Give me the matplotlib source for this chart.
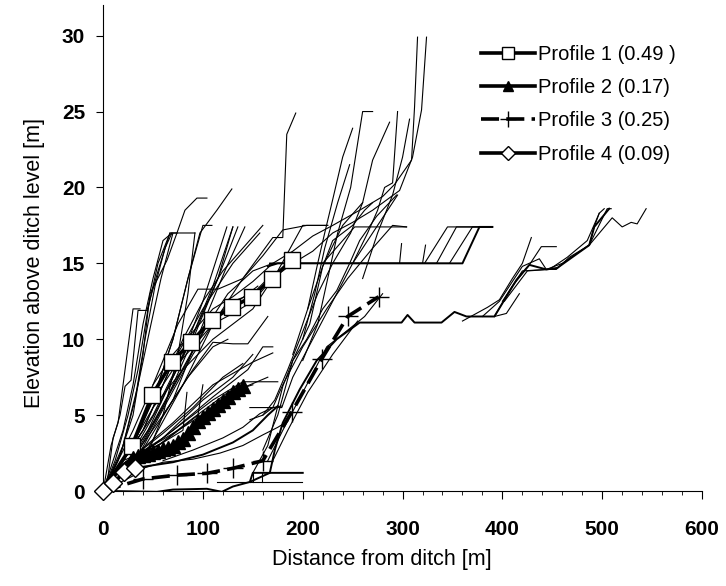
import matplotlib.pyplot as plt
from matplotlib.ticker import MultipleLocator

plt.rcParams['font.family'] = ['Liberation Sans', 'DejaVu Sans']

# the four marked profiles (share of all profiles in brackets)
p1_x = [0, 9, 29, 49, 69, 88, 109, 129, 149, 169, 189]
p1_y = [0, 1.0, 3.0, 6.3, 8.5, 9.8, 11.3, 12.1, 12.8, 14.0, 15.2]
p2_x = [0, 10, 20, 30, 35, 40, 45, 50, 55, 60, 65, 70, 75, 80, 85, 90, 95, 100, 105, 110, 115, 120, 125, 130, 135, 140]
p2_y = [0, 0.9, 1.7, 2.2, 2.3, 2.4, 2.45, 2.55, 2.65, 2.75, 2.85, 3.0, 3.2, 3.4, 3.8, 4.2, 4.6, 4.9, 5.15, 5.4,
        5.7, 5.95, 6.2, 6.5, 6.7, 6.9]
p3_x = [0, 10, 40, 74, 104, 130, 160, 189, 219, 245, 276]
p3_y = [0, 0.2, 0.8, 1.05, 1.17, 1.5, 2.0, 5.2, 8.7, 11.5, 12.8]
p4_x = [0, 10, 21, 32]
p4_y = [0, 0.5, 1.25, 1.5]
labels = ['Profile 1 (0.49 )', 'Profile 2 (0.17)', 'Profile 3 (0.25)', 'Profile 4 (0.09)']

# all other measured profiles, thin lines, grouped roughly by area
steep_lines = [
    [(0, 0), (8, 3), (17, 5), (22, 6.9), (28, 7.3), (35, 11.9), (44, 11.9), (55, 14.5), (67, 17), (92, 17)],
    [(0, 0), (12, 2), (25, 5), (35, 8), (45, 12), (55, 15), (67, 17)],
    [(0, 0), (20, 3), (35, 7), (48, 11), (58, 14), (70, 17), (74, 17)],
    [(0, 0), (30, 1), (45, 2.5), (60, 5), (75, 9), (85, 13), (92, 17)],
    [(0, 0), (15, 2), (30, 5), (40, 9), (47, 13), (64, 15.2), (74, 17), (82, 18.5), (94, 19.3), (104, 19.3)],
    [(0, 0), (30, 3), (55, 7), (70, 10), (85, 14), (97, 17), (114, 18.5), (129, 19.9)],
    [(0, 0), (25, 2.5), (50, 6), (70, 10), (85, 14), (100, 17.5), (109, 17.5)],
    [(20, 2), (50, 5), (80, 9), (100, 12.5), (124, 17.4)],
    [(25, 2), (55, 5.5), (85, 9.5), (110, 13.5), (130, 17.4)],
    [(30, 2), (60, 5.5), (90, 10), (115, 14), (135, 17.4)],
    [(35, 2.2), (70, 6), (100, 11), (122, 14.5), (142, 17.4)],
    [(0, 0), (20, 2), (40, 4), (70, 8.5), (100, 12), (130, 15), (157, 17)],
    [(40, 2.2), (80, 7), (110, 11), (140, 14), (170, 16.7), (180, 16.7), (184, 23.5), (193, 24.9)],
    [(0, 0), (5, 1), (10, 3.5), (15, 4.5), (20, 7), (26, 10), (30, 12), (37, 12)],
    [(15, 1.5), (40, 4), (60, 7), (80, 10), (100, 12.5), (120, 14.5), (140, 16), (160, 17.5)],
    [(20, 1.5), (45, 4), (70, 7.5), (95, 11), (115, 14), (130, 17.4)],
    [(25, 2), (50, 4.5), (75, 7.5), (100, 10.5), (125, 13), (150, 14.5), (170, 15)],
    [(30, 2.2), (55, 5), (80, 8), (105, 11), (130, 12.5), (150, 13), (165, 14)],
    [(30, 2.2), (60, 5), (85, 7.5), (110, 9.5), (125, 10)],
    [(35, 2.3), (65, 6), (90, 9), (115, 11.5), (135, 12.5), (155, 13.5)],
    [(60, 5), (90, 8), (110, 9.8), (130, 9.7), (145, 9.7), (165, 11.5)],
    [(50, 7), (75, 11), (95, 13.3), (115, 13.3), (140, 14), (160, 15.5), (180, 17.2), (204, 17.5), (225, 17.5)],
    [(0, 0), (10, 2), (20, 4), (30, 7), (40, 11), (50, 14), (60, 16.5), (69, 17)],
    [(0, 0), (18, 2.5), (32, 6), (42, 10), (52, 13.5), (62, 16), (69, 17)],
]
mid_lines = [
    [(0, 0), (30, 4), (50, 7), (70, 9), (90, 10.5), (110, 12), (130, 12.8), (150, 13.8), (170, 15),
     (190, 15.8), (210, 16.8), (230, 17.5), (257, 18.5), (280, 19.4), (292, 20.2), (309, 21.8), (312, 25.3), (315, 29.9)],
    [(0, 0), (30, 3), (50, 6), (70, 8), (90, 9.5), (110, 11), (130, 11.7), (150, 12.5), (170, 14), (190, 15),
     (210, 15.8), (230, 17), (250, 17.7), (270, 18.5), (297, 19.8), (310, 22), (319, 25.1), (324, 29.9)],
    [(20, 2), (50, 5.5), (80, 8), (110, 10), (130, 11), (150, 12), (175, 14.5), (200, 17.5), (225, 17.5)],
    [(167, 15), (322, 15), (345, 17.4), (390, 17.4)],
    [(167, 15), (334, 15), (354, 17.4), (390, 17.4)],
    [(167, 15), (347, 15), (370, 17.4), (390, 17.4)],
    [(220, 15), (240, 16.5), (252, 17.4), (304, 17.4)],
    [(297, 15), (299, 16.3)],
    [(320, 15), (323, 16.2)],
    [(205, 12), (220, 14.8), (230, 16.5), (250, 17.5), (262, 18.5), (270, 19)],
]
low_lines = [
    [(160, 2.7), (175, 5), (190, 8.6), (204, 10), (220, 12), (234, 13.2), (247, 15), (257, 16.5), (274, 18.1), (294, 19.5)],
    [(150, 1.2), (165, 3), (180, 6.9), (190, 8.6), (207, 11), (220, 14.8), (240, 17.5), (260, 19)],
    [(160, 5), (170, 5.5), (180, 7), (200, 9.5), (224, 12), (245, 14), (270, 16), (290, 17.5), (304, 17.4)],
    [(147, 5.5), (179, 5.5), (190, 7.5), (210, 10), (230, 12.5), (250, 15), (270, 17), (285, 18.5), (295, 19.5)],
    [(165, 2), (180, 4), (200, 6.5), (224, 9.5), (247, 10.7), (262, 11.5), (280, 13)],
    [(170, 2), (185, 4), (205, 6.5), (230, 9), (255, 11.2)],
    [(147, 4.7), (160, 5), (172, 6), (185, 8), (200, 10.5), (215, 13), (230, 15), (248, 17), (260, 19), (270, 21.8), (287, 24.3)],
    [(200, 8.6), (215, 11), (225, 14), (235, 17), (248, 20), (260, 25), (270, 25)],
    [(190, 9), (205, 12), (215, 15), (222, 17), (230, 19.2), (240, 22), (250, 23.9)],
    [(200, 10), (212, 13), (222, 16), (235, 19), (247, 21.5)],
    [(250, 15), (265, 17), (275, 18.5), (282, 20), (290, 20.3), (295, 25)],
    [(260, 14), (275, 17), (290, 19.5), (300, 22), (307, 24.5)],
    [(114, 0.6), (199, 0.6)],
    [(150, 0.6), (150, 1.2)],
    [(159, 0.6), (159, 1.2)],
    [(40, 1.5), (60, 1.9), (90, 2.1), (117, 2.5), (140, 3.0), (160, 3.7), (175, 4.2), (185, 4.6)],
    [(60, 2), (90, 2.7), (120, 3.5), (140, 4.2), (157, 5.1), (170, 5.5), (179, 5.6)],
    [(20, 1.8), (50, 3), (80, 4.5), (110, 6), (140, 7.2), (150, 7.2), (175, 7.2)],
    [(20, 1.8), (60, 3.5), (100, 6), (130, 7.5), (150, 9)],
    [(25, 2), (60, 3.8), (90, 5.5), (120, 7.5), (140, 8.4)],
    [(25, 2), (70, 4.5), (110, 7), (150, 8.5), (170, 9.1)],
    [(30, 2), (70, 4), (110, 6.2), (145, 8), (160, 9.5), (170, 9.5)],
    [(30, 2.2), (80, 4.2), (120, 5.9), (140, 6.8), (165, 7.5)],
    [(20, 2), (55, 3), (90, 4.8), (125, 6.5), (150, 7)],
    [(25, 2), (50, 2.8), (70, 3.6), (80, 4), (84, 6.5)],
    [(30, 2.2), (60, 3.2), (95, 5), (100, 7)],
]
far_lines = [
    [(360, 11.2), (385, 12.1), (397, 12.6), (410, 14), (420, 15), (429, 16.7)],
    [(380, 11.5), (397, 12.5), (420, 14.8), (437, 15.3), (444, 14.6), (454, 14.6), (467, 15.4), (487, 16.2),
     (492, 17.4), (497, 18.3), (502, 18.6)],
    [(392, 11.5), (410, 13.5), (427, 14.9), (439, 16.1), (454, 16.1)],
    [(400, 12.5), (420, 14.5), (444, 14.6), (460, 15), (487, 16.2), (505, 18.6), (509, 18.6)],
    [(487, 16.2), (510, 18), (520, 17.4), (529, 17.7), (535, 17.6), (544, 18.6)],
    [(402, 12.5), (425, 14.5), (447, 14.6), (465, 15.4), (485, 16.5), (497, 18.3)],
    [(392, 11.5), (404, 11.7), (417, 13)],
]
# a few profiles drawn a little heavier in the original
heavy_lines = [
    [(147, 0.6), (150, 1.2), (167, 1.2), (172, 2.7), (180, 4.5), (197, 6.7), (214, 8.6), (234, 10), (257, 11.1),
     (299, 11.1), (305, 11.6), (312, 11.1), (339, 11.1), (352, 11.8), (364, 11.5), (392, 11.5), (414, 13.9),
     (427, 14.9), (444, 14.6), (455, 14.7), (487, 16.2), (492, 17.4), (507, 18.6)],
    [(165, 14.8), (175, 15), (360, 15), (377, 17.4), (390, 17.4)],
    [(10, 0), (54, -0.05), (70, 0.1), (104, 0.15), (119, -0.05), (130, 0.3), (147, 0.6), (167, 1.2), (200, 1.2)],
    [(40, 1.6), (70, 1.9), (100, 2.4), (130, 3.2), (150, 4.0), (165, 5.0), (175, 5.6)],
]

fig = plt.figure(figsize=(7.26, 5.86), dpi=100)
ax = fig.add_axes([0.142, 0.162, 0.825, 0.829])

for group in [steep_lines, mid_lines, low_lines, far_lines]:
    for pts in group:
        ax.plot([p[0] for p in pts], [p[1] for p in pts], color='black', lw=0.8, zorder=2)
for pts in heavy_lines:
    ax.plot([p[0] for p in pts], [p[1] for p in pts], color='black', lw=1.4, zorder=2)

ax.plot(p1_x, p1_y, color='black', lw=2.6, marker='s', ms=11, mfc='white', mec='black', mew=1,
        markevery=list(range(2, len(p1_x))), label=labels[0], zorder=4, clip_on=False)
ax.plot(p2_x, p2_y, color='black', lw=2.6, marker='^', ms=9.5, mfc='black', mec='black',
        markevery=list(range(3, len(p2_x))), label=labels[1], zorder=4, clip_on=False)
ax.plot(p3_x, p3_y, color='black', lw=2.6, dashes=(5, 2), marker='+', ms=15, mew=1,
        markevery=list(range(2, len(p3_x))), label=labels[2], zorder=4, clip_on=False)
ax.plot(p4_x, p4_y, color='black', lw=2.6, marker='D', ms=9, mfc='white', mec='black', mew=1,
        label=labels[3], zorder=5, clip_on=False)

ax.set_xlim(0, 600)
ax.set_ylim(0, 32)
ax.xaxis.set_major_locator(MultipleLocator(100))
ax.xaxis.set_minor_locator(MultipleLocator(20))
ax.yaxis.set_major_locator(MultipleLocator(5))
ax.spines['top'].set_visible(False)
ax.spines['right'].set_visible(False)
ax.tick_params(axis='x', which='major', length=6, pad=15, labelsize=15)
ax.tick_params(axis='x', which='minor', length=3)
ax.tick_params(axis='y', which='major', length=5, pad=8, labelsize=15)
for lab in ax.get_xticklabels() + ax.get_yticklabels():
    lab.set_fontweight('bold')

ax.set_xlabel('Distance from ditch [m]', fontsize=15.5, labelpad=7, x=0.465)
ax.set_ylabel('Elevation above ditch level [m]', fontsize=15.5, labelpad=12, y=0.47)

ax.legend(loc='upper left', bbox_to_anchor=(0.6, 0.955), frameon=False, fontsize=14.5,
          handlelength=2.7, handletextpad=0.15, labelspacing=0.7, markerscale=0.75)

fig.savefig('out.png', dpi=100)
